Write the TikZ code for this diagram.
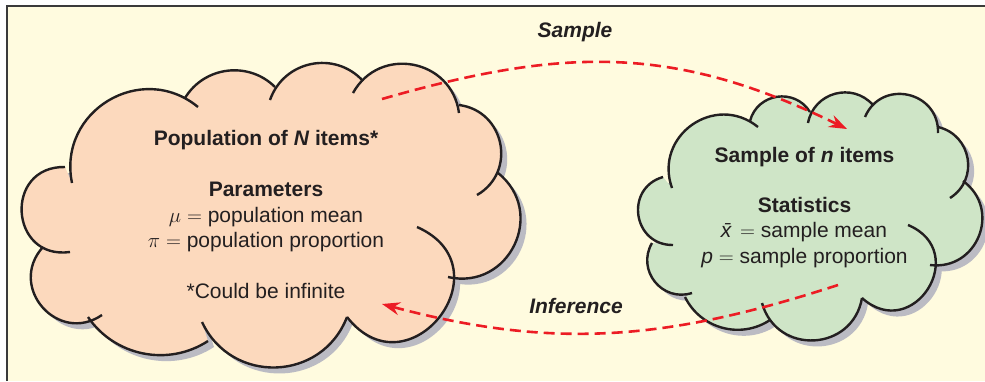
\documentclass[tikz,border=0pt]{standalone}
\usepackage{fontspec}
\setmainfont{Liberation Sans}
\usetikzlibrary{arrows.meta}
\definecolor{bgcream}{HTML}{FFFBDF}
\definecolor{peach}{HTML}{FCD9BD}
\definecolor{sagegreen}{HTML}{CFE5C7}
\definecolor{cloudshadow}{HTML}{BBBBC3}
\definecolor{outlinedark}{HTML}{231F20}
\definecolor{arrowred}{HTML}{EC1C24}
\definecolor{textdark}{HTML}{231F20}
\definecolor{framegray}{HTML}{3A3A3A}
\tikzset{
  cloudline/.style={draw=outlinedark, line width=2.4pt},
  dasharrow/.style={draw=arrowred, line width=2.6pt, dash pattern=on 11pt off 6pt,
    -{Stealth[length=18pt,width=13pt,inset=6pt]}},
  txt/.style={anchor=base, text=textdark, inner sep=0pt, font=\fontsize{21}{25}\selectfont},
  txtb/.style={txt, font=\fontsize{21}{25}\selectfont\bfseries},
  txtbi/.style={txt, font=\fontsize{21}{25}\selectfont\bfseries\itshape},
}
% lobes: x1/y1/x2/y2/height  (clockwise, image pixel coordinates)
\def\lobesPop{72/183/198/107/52, 185/98/275/87/22, 270/100/363/81/27, 353/93/459/113/39,
  459/105/477/195/33, 498/173/448/277/46, 417/227/347/317/73, 347/317/202/322/48,
  208/341/88/317/25, 102/315/43/247/40, 70/252/65/167/46}
\def\lobesSamp{672/188/758/127/40, 750/121/810/112/20, 808/123/873/105/21, 865/117/938/133/31,
  938/127/950/198/24, 963/181/930/265/35, 908/225/862/298/51, 862/298/762/303/40,
  770/320/685/297/20, 692/293/652/243/22, 673/245/663/177/30}
\newcommand\lobecalc{%
  \pgfmathsetmacro\dd{veclen(\xb-\xa,\yb-\ya)}%
  \pgfmathsetmacro\bb{2*atan(2*\hh/\dd)}%
  \pgfmathsetmacro\bbin{180-\bb}%
  \pgfmathsetmacro\ll{1/(3*cos(\bb/2)^2*0.3915)}%
}
% #1 lobe list, #2 start point, #3 macro receiving the closed outline path
\newcommand\buildcloud[3]{%
  \xdef#3{#2}%
  \foreach \xa/\ya/\xb/\yb/\hh in #1 {%
    \lobecalc
    \xdef#3{#3 -- (\xa,\ya) to[out=\bb, in=\bbin, relative, looseness=\ll] (\xb,\yb)}%
  }%
  \xdef#3{#3 -- cycle}%
}
\buildcloud{\lobesPop}{(72,183)}{\popOutline}
\buildcloud{\lobesSamp}{(672,188)}{\sampOutline}
% #1 lobe list, #2 closed path, #3 fill colour
\newcommand\drawcloud[3]{%
  \fill[cloudshadow, shift={(6,6)}] #2;
  \fill[#3] #2;
  \foreach \xa/\ya/\xb/\yb/\hh in #1 {%
    \lobecalc
    \draw[cloudline] (\xa,\ya) to[out=\bb, in=\bbin, relative, looseness=\ll] (\xb,\yb);
  }%
}
\begin{document}
\begin{tikzpicture}[x=1pt, y=-1pt]
\useasboundingbox (0,0) rectangle (985,381);
\fill[white] (0,0) rectangle (985,381);
\fill[bgcream] (7,6) rectangle (985,381);
\draw[framegray, line width=1.3pt] (7,381) -- (7,6) -- (985,6);

% clouds
\drawcloud{\lobesPop}{\popOutline}{peach}
\drawcloud{\lobesSamp}{\sampOutline}{sagegreen}

% population text
\node[txtb] (popTitle) at (266,145) {Population of \textit{N} items*};
\node[txtb] (popParam) at (266,196) {Parameters};
\node[txt] (popMu) at (266,222) {$\mu$ $=$ population mean};
\node[txt] (popPi) at (266,247) {$\pi$ $=$ population proportion};
\node[txt] (popNote) at (266,298) {*Could be infinite};

% sample text
\node[txtb] (sampTitle) at (804.5,162) {Sample of \textit{n} items};
\node[txtb] (sampStat) at (804.5,212) {Statistics};
\node[txt] (sampX) at (804,237) {\textit{\=x} $=$ sample mean};
\node[txt] (sampP) at (804.5,263) {\textit{p} $=$ sample proportion};

% labels
\node[txtbi] (lblSample) at (575,37) {Sample};
\node[txtbi] (lblInference) at (576,313) {Inference};

% connectors
\coordinate (sampleFrom) at (382,99);
\coordinate (sampleTo) at (847,129);
\coordinate (infFrom) at (838,285);
\coordinate (infTo) at (382,304);
\draw[dasharrow] (sampleFrom) to[out=16, in=154, looseness=1.05] (sampleTo);
\draw[dasharrow] (infFrom) to[out=198, in=-15] (infTo);
\end{tikzpicture}
\end{document}
